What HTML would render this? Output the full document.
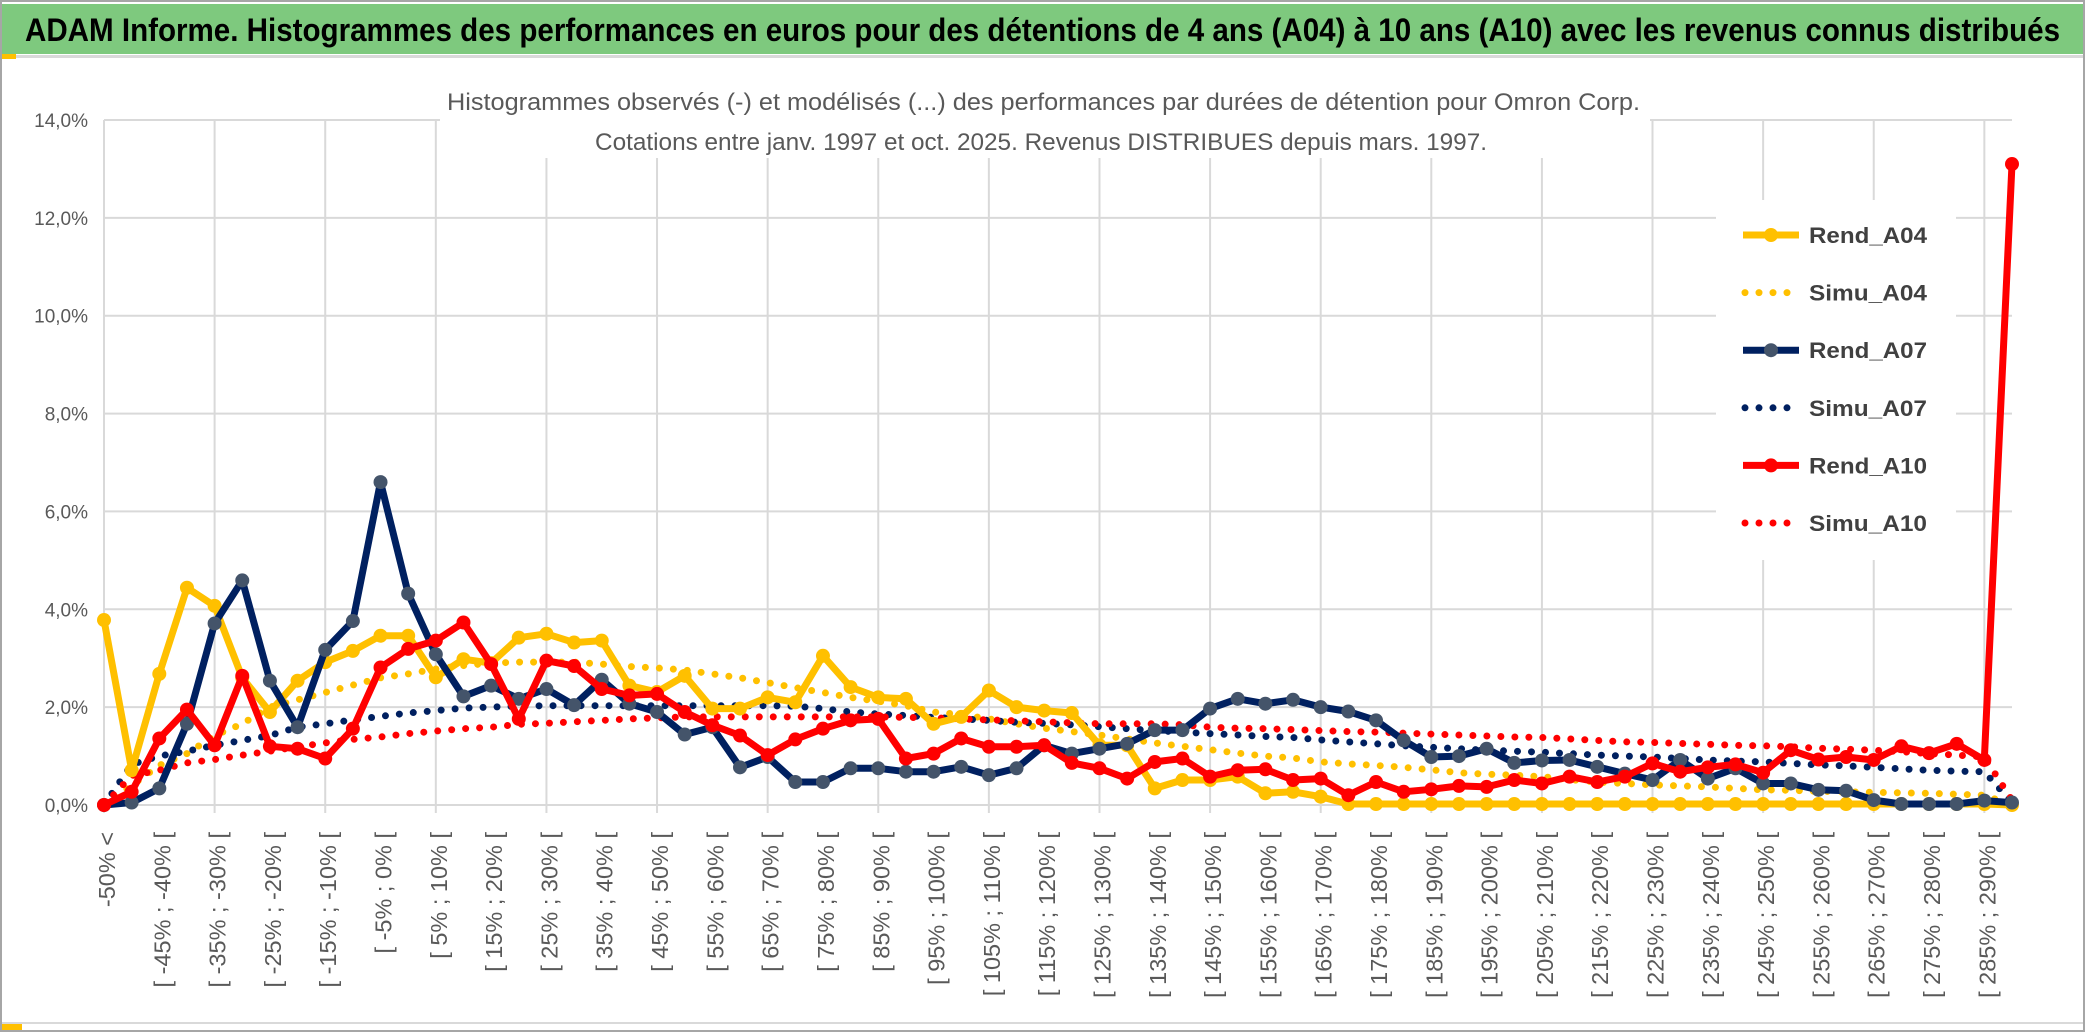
<!DOCTYPE html>
<html><head><meta charset="utf-8"><style>
html,body{margin:0;padding:0;background:#fff;}
svg{display:block;}
text{font-family:"Liberation Sans Narrow","Liberation Sans",sans-serif;}
</style></head><body>
<svg id="chart" width="2086" height="1033" viewBox="0 0 2086 1033" xmlns="http://www.w3.org/2000/svg">
<rect x="0" y="0" width="2086" height="1033" fill="#fff"/>
<rect x="1" y="1" width="2083" height="1030" fill="none" stroke="#a6a6a6" stroke-width="2"/>
<g>
<rect x="2" y="4" width="2081" height="50" fill="#7ec97e"/>
<text x="25" y="41" font-size="32" font-weight="bold" fill="#000" textLength="2035" lengthAdjust="spacingAndGlyphs">ADAM Informe. Histogrammes des performances en euros pour des détentions de 4 ans (A04) à 10 ans (A10) avec les revenus connus distribués</text>
</g>
<rect x="2" y="55" width="2081" height="3" fill="#d9d9d9"/>
<rect x="2" y="54" width="14" height="5" fill="#ffc000"/>
<rect x="2" y="1022" width="2081" height="2" fill="#d9d9d9"/>
<rect x="2" y="1024" width="20" height="6" fill="#ffc000"/>
<g id="grid"></g>
<rect x="440" y="80" width="1210" height="78" fill="#fff"/>
<text x="447" y="110" font-size="24" fill="#595959" textLength="1193" lengthAdjust="spacingAndGlyphs">Histogrammes observés (-) et modélisés (...) des performances par durées de détention pour Omron Corp.</text>
<text x="595" y="150" font-size="24" fill="#595959" textLength="892" lengthAdjust="spacingAndGlyphs">Cotations entre janv. 1997 et oct. 2025. Revenus DISTRIBUES depuis mars. 1997.</text>
<g id="yaxis"></g>
<g id="xaxis"></g>
<g id="series"></g>
<g id="legend"></g>
</svg>
<script>
const rendA04 = [3.78,0.71,2.68,4.44,4.07,2.6,1.9,2.54,2.92,3.15,3.46,3.46,2.61,2.98,2.9,3.42,3.5,3.32,3.36,2.44,2.31,2.64,1.97,1.97,2.2,2.1,3.05,2.41,2.2,2.17,1.66,1.8,2.34,2.0,1.93,1.88,1.22,1.22,0.34,0.51,0.51,0.58,0.24,0.27,0.17,0.02,0.02,0.02,0.02,0.02,0.02,0.02,0.02,0.02,0.02,0.02,0.02,0.02,0.02,0.02,0.02,0.02,0.02,0.02,0.02,0.02,0.02,0.02,0.02,0.0];
const simuA04 = [0,0.4,0.81,1.05,1.42,1.66,2.0,2.15,2.3,2.45,2.6,2.68,2.78,2.85,2.9,2.92,2.92,2.92,2.88,2.83,2.8,2.76,2.68,2.6,2.5,2.4,2.3,2.2,2.12,2.03,1.9,1.85,1.76,1.66,1.57,1.5,1.43,1.35,1.27,1.2,1.13,1.06,1.0,0.96,0.88,0.84,0.81,0.77,0.72,0.66,0.63,0.61,0.58,0.52,0.47,0.44,0.41,0.39,0.37,0.34,0.31,0.3,0.28,0.27,0.26,0.25,0.24,0.22,0.2,0.0];
const rendA07 = [0,0.05,0.34,1.66,3.71,4.59,2.54,1.59,3.17,3.76,6.6,4.32,3.08,2.22,2.44,2.17,2.37,2.04,2.56,2.07,1.9,1.44,1.59,0.77,0.98,0.47,0.47,0.75,0.75,0.68,0.68,0.78,0.61,0.75,1.22,1.05,1.15,1.25,1.53,1.53,1.97,2.17,2.07,2.15,2.0,1.91,1.73,1.32,0.98,1.0,1.15,0.86,0.91,0.92,0.78,0.64,0.51,0.92,0.54,0.75,0.44,0.44,0.31,0.29,0.1,0.02,0.02,0.02,0.09,0.05];
const simuA07 = [0,0.83,1.0,1.1,1.22,1.32,1.42,1.59,1.66,1.74,1.81,1.88,1.93,1.98,2.0,2.02,2.03,2.03,2.03,2.03,2.03,2.03,2.03,2.03,2.03,2.02,1.97,1.9,1.86,1.83,1.79,1.76,1.73,1.69,1.67,1.64,1.6,1.56,1.52,1.49,1.46,1.43,1.4,1.38,1.33,1.29,1.25,1.21,1.18,1.15,1.12,1.1,1.08,1.05,1.02,1.0,0.98,0.95,0.92,0.9,0.88,0.85,0.82,0.8,0.77,0.74,0.71,0.69,0.68,0.05];
const rendA10 = [0,0.27,1.36,1.95,1.22,2.64,1.2,1.15,0.95,1.56,2.81,3.19,3.36,3.73,2.88,1.76,2.95,2.84,2.37,2.24,2.27,1.9,1.63,1.42,1.02,1.34,1.56,1.73,1.76,0.95,1.05,1.36,1.19,1.19,1.22,0.86,0.75,0.54,0.88,0.95,0.58,0.71,0.73,0.51,0.54,0.2,0.47,0.27,0.32,0.39,0.37,0.51,0.44,0.58,0.47,0.58,0.85,0.68,0.77,0.83,0.66,1.12,0.93,0.98,0.92,1.2,1.06,1.25,0.92,13.1];
const simuA10 = [0,0.6,0.71,0.86,0.93,1.02,1.1,1.19,1.27,1.34,1.39,1.46,1.51,1.56,1.59,1.65,1.67,1.7,1.73,1.76,1.78,1.8,1.8,1.8,1.8,1.8,1.8,1.8,1.8,1.79,1.78,1.76,1.74,1.72,1.7,1.68,1.66,1.66,1.66,1.64,1.59,1.57,1.56,1.54,1.52,1.5,1.49,1.47,1.45,1.43,1.41,1.39,1.38,1.35,1.32,1.29,1.28,1.26,1.24,1.22,1.21,1.19,1.16,1.14,1.12,1.09,1.05,1.02,0.98,0.1];
const yTicks = [0,2,4,6,8,10,12,14];
const yTickLabels = ["0,0%","2,0%","4,0%","6,0%","8,0%","10,0%","12,0%","14,0%"];
const categories = ["-50% <"];
for (let k = 0; k < 69; k++) { const lo = -50 + 5*k; categories.push("[ " + lo + "% ; " + (lo+5) + "% ["); }

const NS = "http://www.w3.org/2000/svg";
const X0 = 104, X1 = 2012, Y0 = 805, Y14 = 120;
const xs = i => X0 + (X1 - X0) * i / (categories.length - 1);
const ys = v => Y0 - (Y0 - Y14) * v / 14;
function mk(tag, attrs, parent) { const e = document.createElementNS(NS, tag); for (const k in attrs) e.setAttribute(k, attrs[k]); parent.appendChild(e); return e; }

const grid = document.getElementById('grid');
yTicks.forEach(t => {
  const l = mk('line', {x1: X0, x2: X1, y1: ys(t), y2: ys(t), stroke: '#d9d9d9', 'stroke-width': 2}, grid);
  
  
});
for (let i = 0; i < categories.length; i += 4) {
  const l = mk('line', {x1: xs(i), x2: xs(i), y1: ys(14), y2: Y0 + 8, stroke: '#d9d9d9', 'stroke-width': 2}, grid);
  
  
}
const ya = document.getElementById('yaxis');
yTicks.forEach((t, k) => {
  const tx = mk('text', {x: 88, y: ys(t) + 7, 'font-size': 19, fill: '#595959', 'text-anchor': 'end'}, ya);
  tx.textContent = yTickLabels[k];
  
  
});
const xa = document.getElementById('xaxis');
for (let i = 0; i < categories.length - 1; i += 2) {
  const x = xs(i) + 11;
  const tx = mk('text', {x: x, y: 832, 'font-size': 23.5, fill: '#595959', 'text-anchor': 'end', transform: 'rotate(-90 ' + x + ' 832)', style: 'font-family:"Liberation Sans",sans-serif'}, xa);
  tx.textContent = categories[i];
  
  
}
const ser = document.getElementById('series');
function pts(arr) { return arr.map((v, i) => xs(i).toFixed(1) + ',' + ys(v).toFixed(1)).join(' '); }
function dotted(arr, color, name) {
  const p = mk('polyline', {points: pts(arr), fill: 'none', stroke: color, 'stroke-width': 7, 'stroke-linecap': 'round', 'stroke-dasharray': '0 14'}, ser);
  
  
}
function solid(arr, color, mcolor, name) {
  const p = mk('polyline', {points: pts(arr), fill: 'none', stroke: color, 'stroke-width': 7, 'stroke-linejoin': 'round'}, ser);
  
  
  arr.forEach((v, i) => {
    const c = mk('circle', {cx: xs(i), cy: ys(v), r: 7, fill: mcolor}, ser);
    
    
  });
}
dotted(simuA04, '#ffc000', 'simu-a04-line');
dotted(simuA07, '#002060', 'simu-a07-line');
dotted(simuA10, '#ff0000', 'simu-a10-line');
solid(rendA04, '#ffc000', '#ffc000', 'rend-a04-line');
solid(rendA07, '#002060', '#44546a', 'rend-a07-line');
solid(rendA10, '#ff0000', '#ff0000', 'rend-a10-line');

const lg = document.getElementById('legend');
mk('rect', {x: 1716, y: 200, width: 240, height: 360, fill: '#fff'}, lg);
const legendNames = ["Rend_A04","Simu_A04","Rend_A07","Simu_A07","Rend_A10","Simu_A10"];
const legendColors = ["#ffc000","#ffc000","#002060","#002060","#ff0000","#ff0000"];
const legendMarker = ["#ffc000",null,"#44546a",null,"#ff0000",null];
legendNames.forEach((n, k) => {
  const y = 235 + k * 57.6;
  const g = mk('g', {}, lg);
  
  
  if (legendMarker[k]) {
    mk('line', {x1: 1743, x2: 1799, y1: y, y2: y, stroke: legendColors[k], 'stroke-width': 7}, g);
    mk('circle', {cx: 1771, cy: y, r: 7, fill: legendMarker[k]}, g);
  } else {
    mk('line', {x1: 1745, x2: 1795, y1: y, y2: y, stroke: legendColors[k], 'stroke-width': 7, 'stroke-linecap': 'round', 'stroke-dasharray': '0 14'}, g);
  }
  const t = mk('text', {x: 1809, y: y + 8, 'font-size': 22, 'font-weight': 'bold', fill: '#404040', textLength: 118, lengthAdjust: 'spacingAndGlyphs', style: 'font-family:"Liberation Sans",sans-serif'}, g);
  t.textContent = n;
});
</script>
</body></html>
